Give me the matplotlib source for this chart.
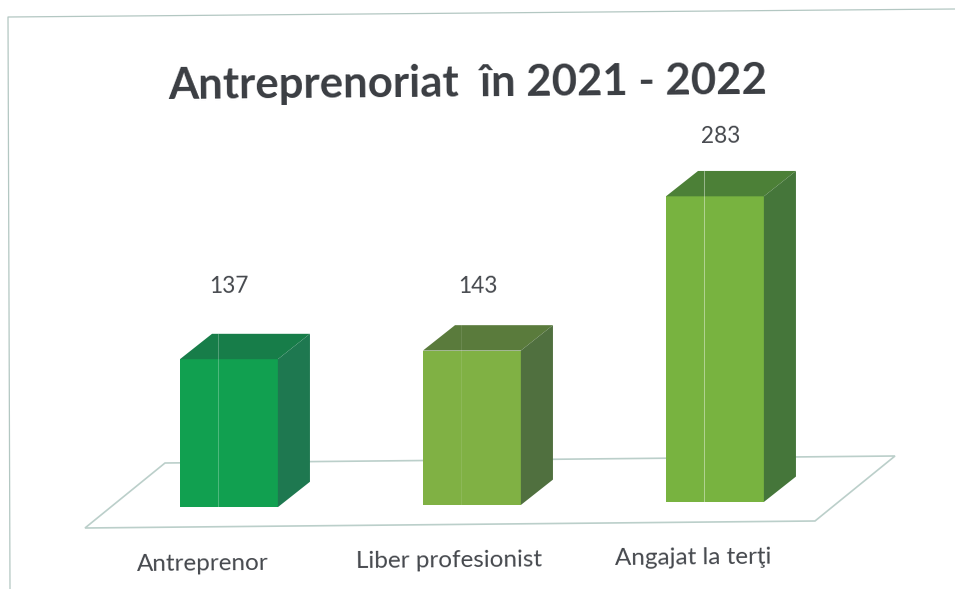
import matplotlib
matplotlib.use("Agg")
import matplotlib.pyplot as plt
from matplotlib.patches import Polygon
from matplotlib.transforms import Affine2D

plt.rcParams['font.family'] = ['Lato', 'DejaVu Sans']

title = "Antreprenoriat  în 2021 - 2022"
categories = ["Antreprenor", "Liber profesionist", "Angajat la terţi"]
values = [137, 143, 283]

front_colors = ["#11A050", "#80B144", "#78B340"]
top_colors = ["#177D49", "#5A7B3C", "#4C8037"]
side_colors = ["#1E7850", "#50703F", "#45763A"]
line_alpha = [0.3, 0.12, 0.5]
base_tilt = [-2.0, 0.0, 2.8]      # scan tilt of the baseline, in value units
label_pos = [(229, 286), (478, 286), (721, 136)]
cat_pos = [(203, 564), (449, 561), (693, 558)]

fig = plt.figure(figsize=(9.55, 5.89), dpi=100, facecolor="white")
ax = fig.add_axes([0, 0, 1, 1])
ax.set_xlim(-0.942, 2.988)
ax.set_ylim(-77.8, 467.6)
ax.axis("off")

px = Affine2D().scale(1 / 955, -1 / 589).translate(0, 1) + fig.transFigure

line_col = "#BBCFCA"
# Frame of the scanned chart
ax.plot([10, 8, 955], [589, 17, 9], color="#B3C7C2", lw=0.9, transform=px, zorder=1)
# Floor of the 3D chart
ax.add_patch(Polygon([(85, 528), (815, 521), (895, 456), (165, 463)], closed=True,
                     fill=False, edgecolor=line_col, lw=1.2, transform=px, zorder=1))

width = 0.403
dx, dy = 0.132, 23.5
x = range(len(values))
ax.bar(x, values, width=width, bottom=base_tilt, color=front_colors, zorder=3)
for i, v in enumerate(values):
    l, r = i - width / 2, i + width / 2
    b, t = base_tilt[i], base_tilt[i] + v
    ax.add_patch(Polygon([(l, t), (r, t), (r + dx, t + dy), (l + dx, t + dy)],
                         closed=True, color=top_colors[i], lw=0, zorder=3))
    ax.add_patch(Polygon([(r, b), (r + dx, b + dy), (r + dx, t + dy), (r, t)],
                         closed=True, color=side_colors[i], lw=0, zorder=3))
    ax.plot([i - 0.045, i - 0.045], [b, t + dy], color="white", lw=0.6,
            alpha=line_alpha[i], zorder=4)

txt = "#45484D"
ax.text(468, 83, title, transform=px, ha="center", va="center", fontsize=31.5,
        fontweight="bold", color="#3A3D42", rotation=0.5, rotation_mode="anchor")
for v, (lx, ly) in zip(values, label_pos):
    ax.text(lx, ly, str(v), transform=px, ha="center", va="center", fontsize=16.3,
            color=txt, rotation=0.5, rotation_mode="anchor")
for c, (lx, ly) in zip(categories, cat_pos):
    ax.text(lx, ly, c, transform=px, ha="center", va="center", fontsize=17.5,
            color=txt, rotation=0.5, rotation_mode="anchor")

fig.savefig("out.png", dpi=100)
